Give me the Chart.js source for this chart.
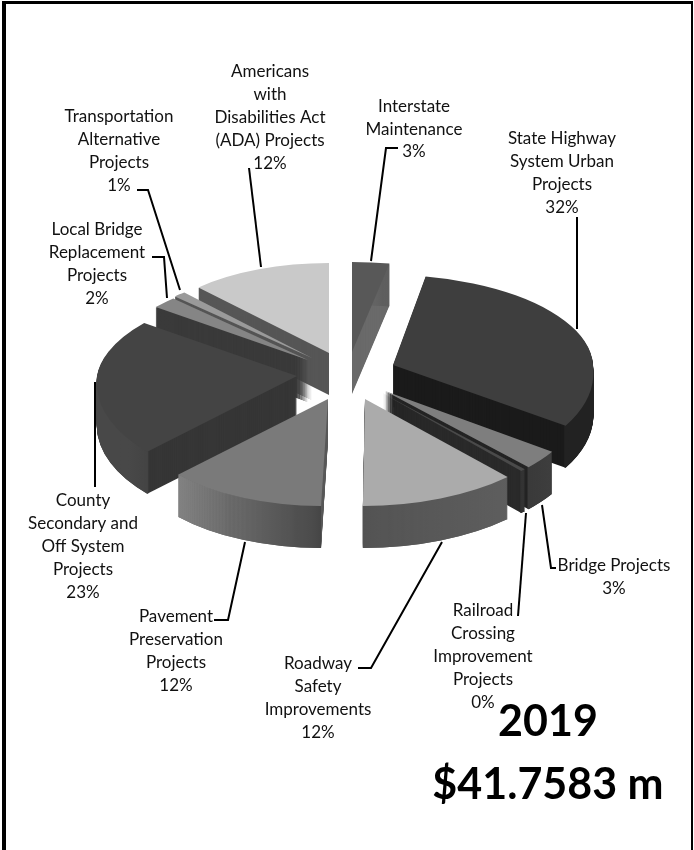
<!DOCTYPE html>
<html lang="en">
<head>
<meta charset="UTF-8">
<title>2019 Projects</title>
<script src="https://cdn.jsdelivr.net/npm/chart.js@4/dist/chart.umd.min.js"></script>
<style>
  html, body { margin: 0; padding: 0; background: #fff; }
  canvas { display: block; }
</style>
</head>
<body>
<canvas id="myChart" width="694" height="850"></canvas>
<script>
// data, clockwise from 12 o'clock
var categories = ["Interstate Maintenance", "State Highway System Urban Projects", "Bridge Projects",
  "Railroad Crossing Improvement Projects", "Roadway Safety Improvements", "Pavement Preservation Projects",
  "County Secondary and Off System Projects", "Local Bridge Replacement Projects",
  "Transportation Alternative Projects", "Americans with Disabilities Act (ADA) Projects"];
var values = [3, 31.6, 3, 0.4, 12, 12.5, 22.5, 2, 1, 12];
var percents = ["3%", "32%", "3%", "0%", "12%", "12%", "23%", "2%", "1%", "12%"];
var titleLines = ["2019", "$41.7583 m"];

// greys per slice
var topColors = ["#585858", "#3e3e3e", "#7e7e7e", "#4a4a4a", "#ababab", "#7a7a7a", "#444444", "#858585", "#9a9a9a", "#c9c9c9"];
var cutColors = ["#6a6a6a", "#1b1b1b", "#242424", "#2a2a2a", "#5a5a5a", "#5a5a5a", "#363636", "#3a3a3a", "#555555", "#565656"];
var rimStart = ["#666666", "#1e1e1e", "#3e3e3e", "#333333", "#5e5e5e", "#454545", "#444444", "#3a3a3a", "#555555", "#565656"];
var rimEnd = ["#5a5a5a", "#222222", "#3a3a3a", "#333333", "#525252", "#838383", "#484848", "#3a3a3a", "#555555", "#565656"];

// back to front
var drawOrder = [0, 9, 8, 7, 6, 1, 2, 3, 4, 5];
var explode = 50, depth = 42, squashBack = 0.45, squashFront = 0.535;
// perspective fudge per slice: [x stretch, x lean per px of y], behind and in front of the slice tip
var warpBack = [[0, 0], [0, 0.055], [0, 0], [0, 0], [0, 0], [0, 0], [0, -0.17], [0, -0.18], [0, -0.14], [-0.046, 0]];
var warpFront = [[0, 0], [0, 0.13], [0, 0.04], [0, 0.03], [0.053, -0.02], [0.026, -0.065], [0, -0.11], [0, 0], [0, 0], [0, 0]];

// text blocks: [centre x, first line y, line gap, lines]
var labelBlocks = [
  [270, 72, 22.9, ["Americans", "with", "Disabilities Act", "(ADA) Projects", percents[9]]],
  [119, 117, 23, ["Transportation", "Alternative", "Projects", percents[8]]],
  [414, 107, 22.5, ["Interstate", "Maintenance", percents[0]]],
  [562, 139, 22.8, ["State Highway", "System Urban", "Projects", percents[1]]],
  [97, 230, 22.8, ["Local Bridge", "Replacement", "Projects", percents[7]]],
  [83, 501, 22.8, ["County", "Secondary and", "Off System", "Projects", percents[6]]],
  [176, 617, 23, ["Pavement", "Preservation", "Projects", percents[5]]],
  [318, 664, 22.7, ["Roadway", "Safety", "Improvements", percents[4]]],
  [483, 611, 23, ["Railroad", "Crossing", "Improvement", "Projects", percents[3]]],
  [614, 566, 23, ["Bridge Projects", percents[2]]]
];
var leaders = [
  [[249, 168], [261, 267]],
  [[137, 190], [148, 190], [180, 290]],
  [[152, 257], [164, 257], [167, 298]],
  [[398, 148], [386, 148], [371, 261]],
  [[577, 217], [577, 329]],
  [[95, 382], [95, 487]],
  [[245, 542], [228, 620], [214, 620]],
  [[442, 542], [371, 668], [358, 668]],
  [[526, 513], [518, 616]],
  [[542, 505], [551, 568], [556, 568]]
];

function paintSlice(ctx, arc, i, dy, fill, ringOnly, area) {
  var mid = (arc.startAngle + arc.endAngle) / 2;
  var ax = Math.round(arc.x + Math.cos(mid) * explode);
  // whole pixels so the stacked layers line up
  var ay = Math.round(arc.y + Math.sin(mid) * explode * (Math.sin(mid) < 0 ? squashBack : squashFront)) + dy;
  var savedOptions = arc.options, savedInner = arc.innerRadius;
  arc.options = Object.assign({}, savedOptions, { backgroundColor: fill, borderWidth: 0, offset: 0 });
  if (ringOnly) arc.innerRadius = arc.outerRadius - 2;
  // back half is squashed harder than the front half, this is the fake perspective
  [[squashBack, 0, ay, warpBack[i]], [squashFront, ay, area.height - ay, warpFront[i]]].forEach(function (part) {
    ctx.save();
    ctx.beginPath();
    ctx.rect(0, part[1], area.width, part[2]);
    ctx.clip();
    ctx.translate(ax, ay);
    ctx.transform(1 + part[3][0], 0, part[3][1], 1, 0, 0);
    ctx.scale(1, part[0]);
    ctx.translate(-arc.x, -arc.y);
    arc.draw(ctx);
    ctx.restore();
  });
  arc.options = savedOptions;
  arc.innerRadius = savedInner;
}

var pie3d = {
  id: 'pie3d',
  beforeDatasetsDraw: function (chart) {
    var ctx = chart.ctx, arcs = chart.getDatasetMeta(0).data;
    drawOrder.forEach(function (i) {
      var arc = arcs[i], d;
      for (d = depth; d > 0; d--) paintSlice(ctx, arc, i, d, cutColors[i], false, chart);
      var x1 = arc.x + arc.outerRadius * Math.cos(arc.startAngle);
      var x2 = arc.x + arc.outerRadius * Math.cos(arc.endAngle);
      var grad = ctx.createLinearGradient(x1, 0, x2 === x1 ? x1 + 1 : x2, 0);
      grad.addColorStop(0, rimStart[i]);
      grad.addColorStop(1, rimEnd[i]);
      for (d = depth; d > 0; d--) paintSlice(ctx, arc, i, d, grad, true, chart);
      paintSlice(ctx, arc, i, 0, topColors[i], false, chart);
    });
    return false;
  },
  afterDraw: function (chart) {
    var ctx = chart.ctx;
    ctx.save();
    // frame, no bottom edge
    ctx.fillStyle = '#000';
    ctx.fillRect(2, 1, 690, 3);
    ctx.fillRect(2, 1, 4, 849);
    ctx.fillRect(691, 1, 2, 849);
    // leader lines
    ctx.strokeStyle = '#000';
    ctx.lineWidth = 2;
    leaders.forEach(function (pts) {
      ctx.beginPath();
      pts.forEach(function (p, k) { k ? ctx.lineTo(p[0], p[1]) : ctx.moveTo(p[0], p[1]); });
      ctx.stroke();
    });
    // labels
    ctx.fillStyle = '#111';
    ctx.textAlign = 'center';
    ctx.textBaseline = 'middle';
    ctx.font = '17px Lato';
    labelBlocks.forEach(function (b) {
      b[3].forEach(function (line, k) { ctx.fillText(line, b[0], b[1] + k * b[2]); });
    });
    ctx.fillStyle = '#000';
    ctx.font = 'bold 43px Lato';
    ctx.fillText(titleLines[0], 548, 722);
    ctx.fillText(titleLines[1], 548, 785);
    ctx.restore();
  }
};

var ctx = document.getElementById('myChart').getContext('2d');
var chart = new Chart(ctx, {
  type: 'pie',
  plugins: [pie3d],
  data: {
    labels: categories,
    datasets: [{ data: values, backgroundColor: topColors, borderWidth: 0 }]
  },
  options: {
    responsive: false,
    animation: false,
    devicePixelRatio: 1,
    layout: { padding: { left: 147, right: 147, top: 174, bottom: 276 } },
    plugins: { legend: { display: false }, tooltip: { enabled: false } },
    events: []
  }
});
</script>
</body>
</html>
